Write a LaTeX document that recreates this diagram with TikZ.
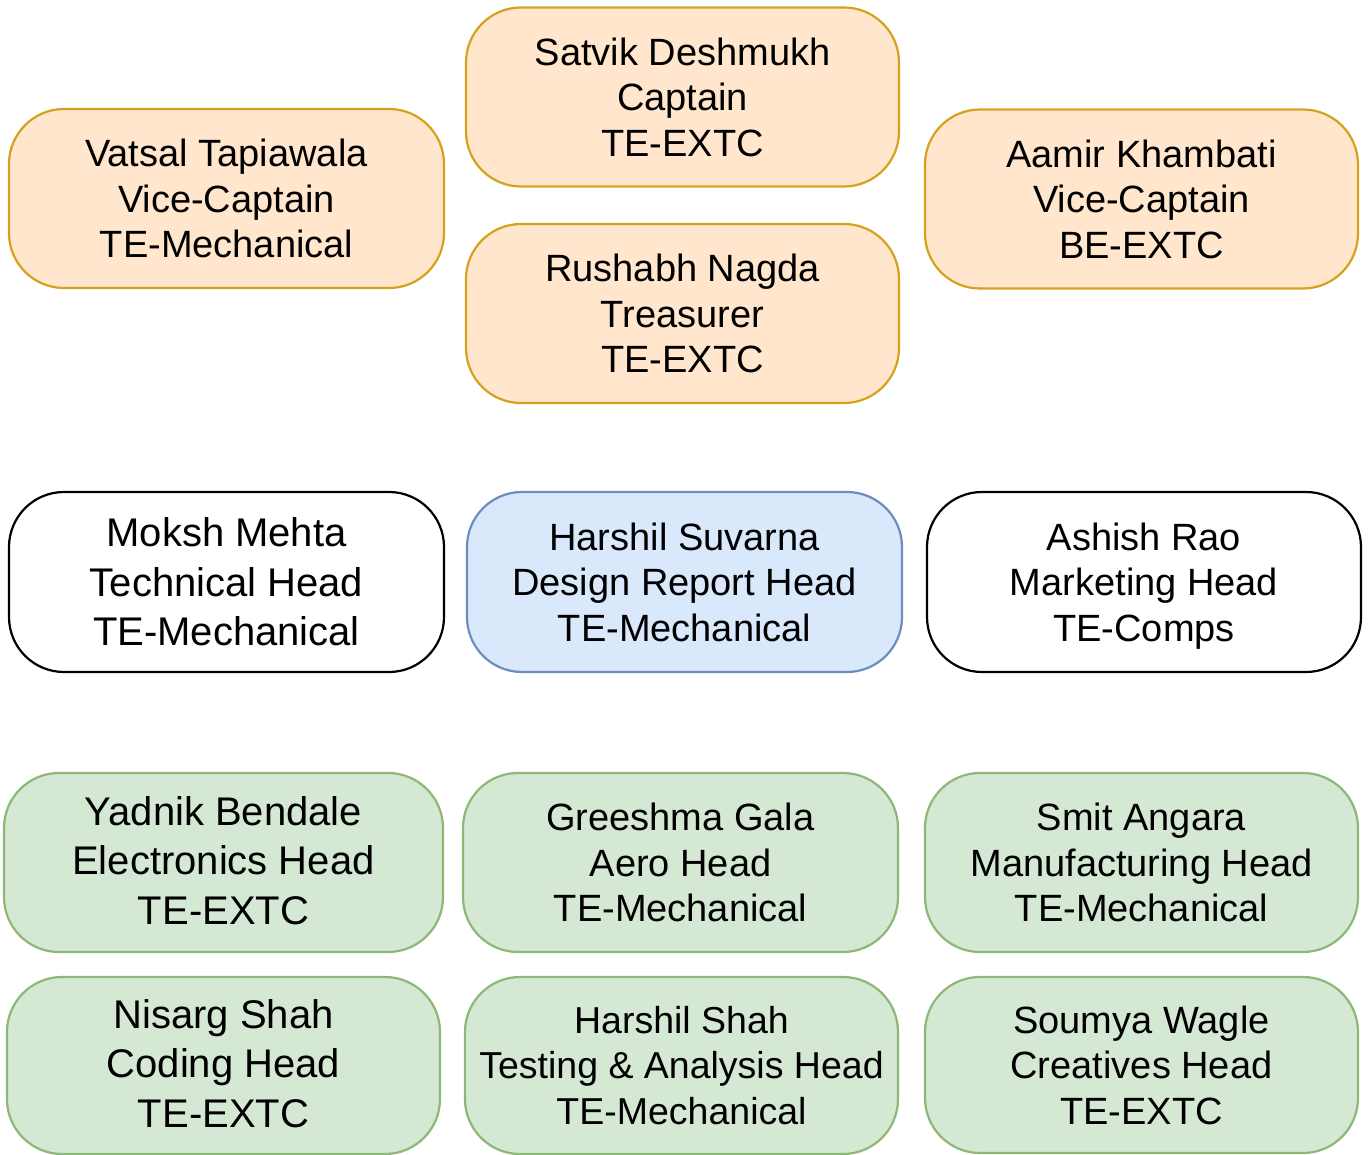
\documentclass[tikz,border=0pt]{standalone}
\usepackage{fontspec}
\setmainfont{Liberation Sans}
\definecolor{ofill}{HTML}{FFE6CC}
\definecolor{ostroke}{HTML}{D6A21E}
\definecolor{bfill}{HTML}{DAE8FC}
\definecolor{bstroke}{HTML}{6C8EBF}
\definecolor{gfill}{HTML}{D5E8D4}
\definecolor{gstroke}{HTML}{8DB877}
\tikzset{
  base/.style={draw, rounded corners=55pt, line width=2.2pt, inner sep=0pt, align=center,
    font=\fontsize{38}{45.5}\selectfont, text height=118.2pt, text depth=0pt,
    minimum width=433pt, minimum height=179pt},
  big/.style={font=\fontsize{40}{49.5}\selectfont, text height=127.6pt, text depth=0pt},
  bigup/.style={font=\fontsize{40}{49.5}\selectfont, text height=127.6pt, text depth=4pt},
  leadbox/.style={base, fill=ofill, draw=ostroke},
  drbox/.style={base, fill=bfill, draw=bstroke},
  plainbox/.style={base, fill=white, draw=black},
  subbox/.style={base, fill=gfill, draw=gstroke}
}
\begin{document}
\begin{tikzpicture}[x=1pt,y=-1pt]
\fill[white] (0,0) rectangle (1371,1155);
\useasboundingbox (0,0) rectangle (1371,1155);
% leadership
\node[leadbox] (satvik) at (682.5,97) {Satvik Deshmukh\\Captain\\TE-EXTC};
\node[leadbox, minimum width=435pt] (vatsal) at (226.5,198.5) {Vatsal Tapiawala\\Vice-Captain\\TE-Mechanical};
\node[leadbox] (aamir) at (1141.5,199) {Aamir Khambati\\Vice-Captain\\BE-EXTC};
\node[leadbox] (rushabh) at (682.5,313.5) {Rushabh Nagda\\Treasurer\\TE-EXTC};
% heads row
\node[plainbox, big, minimum width=435pt, minimum height=180pt] (moksh) at (226.5,582) {Moksh Mehta\\Technical Head\\TE-Mechanical};
\node[drbox, minimum width=435pt, minimum height=180pt] (harshilsu) at (684.5,582) {Harshil Suvarna\\Design Report Head\\TE-Mechanical};
\node[plainbox, minimum width=434pt, minimum height=180pt] (ashish) at (1144,582) {Ashish Rao\\Marketing Head\\TE-Comps};
% sub heads
\node[subbox, bigup, minimum width=439pt] (yadnik) at (223.5,862.5) {Yadnik Bendale\\Electronics Head\\TE-EXTC};
\node[subbox, minimum width=435pt] (greeshma) at (680.5,862.5) {Greeshma Gala\\Aero Head\\TE-Mechanical};
\node[subbox] (smit) at (1141.5,862.5) {Smit Angara\\Manufacturing Head\\TE-Mechanical};
\node[subbox, bigup, minimum height=177pt] (nisarg) at (223.5,1065.5) {Nisarg Shah\\Coding Head\\TE-EXTC};
\node[subbox, minimum height=177pt, font=\fontsize{37.5}{45.5}\selectfont, text height=117.85pt] (harshilsh) at (681.5,1065.5) {Harshil Shah\\Testing \& Analysis Head\\TE-Mechanical};
\node[subbox, minimum height=176pt] (soumya) at (1141.5,1065) {Soumya Wagle\\Creatives Head\\TE-EXTC};
\end{tikzpicture}
\end{document}
